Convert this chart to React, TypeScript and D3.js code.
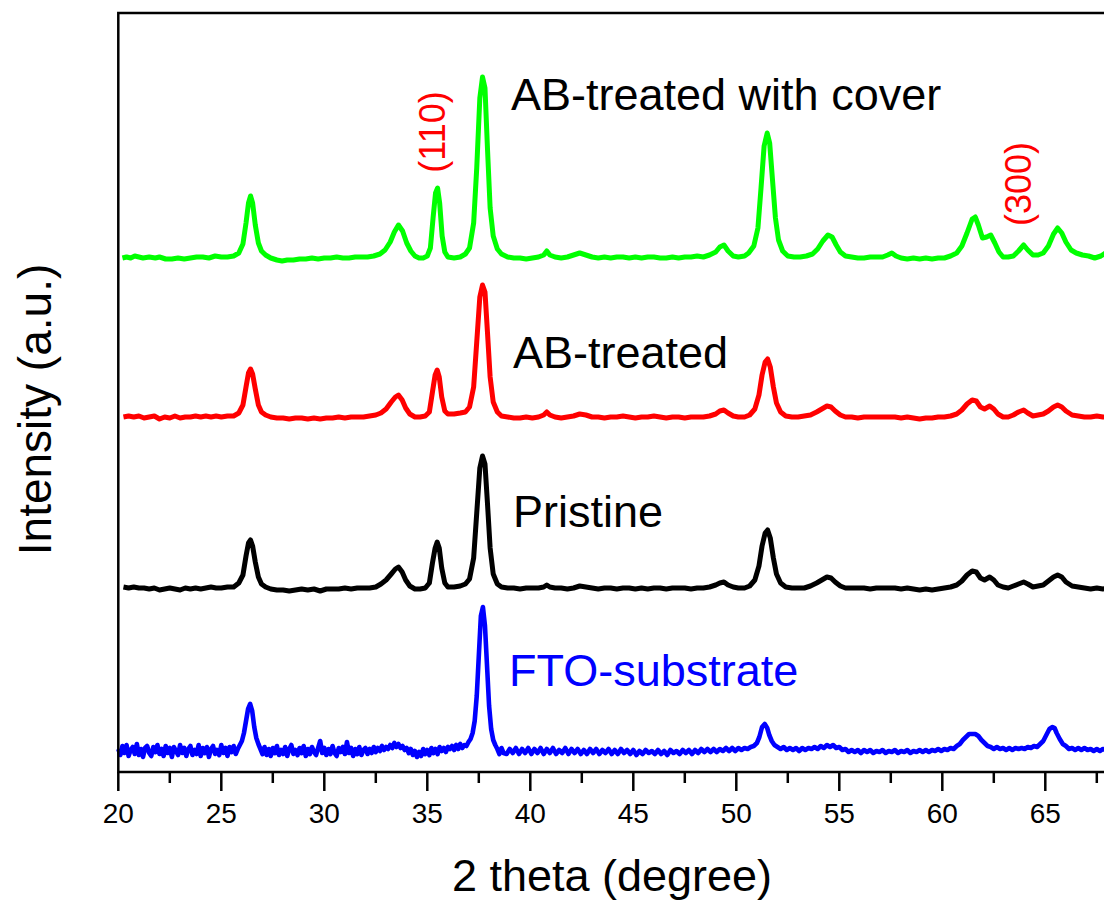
import React from "react";
import * as d3 from "d3";

type Pt = [number, number];

// 2θ (degree) vs intensity above each pattern's own baseline (a.u.)
const greenData: Pt[] = [
  [20.2,0],[20.4,1],[20.6,0],[20.8,2],[21.0,1],[21.2,0],[21.5,1],[21.8,0],[22.0,1],[22.3,-1],[22.6,-1],[22.9,0],[23.2,-1],[23.5,0],[23.8,1],[24.1,1],[24.4,0],[24.7,2],[25.0,1],[25.3,1],[25.6,2],[25.85,5],[26.05,14],[26.2,35],[26.32,55],[26.42,62],[26.52,55],[26.65,33],[26.8,15],[26.95,7],[27.15,3],[27.4,0],[27.7,-2],[27.95,-3],[28.2,-2],[28.5,-2],[28.8,-1],[29.1,-1],[29.4,0],[29.7,-1],[30.0,0],[30.3,0],[30.6,1],[30.9,0],[31.2,0],[31.5,1],[31.8,1],[32.1,1],[32.4,2],[32.7,4],[32.95,8],[33.2,16],[33.4,26],[33.6,33],[33.8,27],[34.0,15],[34.2,7],[34.4,2],[34.6,0],[34.8,0],[35.0,2],[35.15,10],[35.28,40],[35.4,65],[35.5,70],[35.6,55],[35.72,22],[35.85,6],[36.0,1],[36.3,0],[36.6,1],[36.85,4],[37.05,10],[37.25,35],[37.4,90],[37.55,160],[37.68,181],[37.8,170],[37.92,110],[38.05,50],[38.2,22],[38.4,9],[38.6,4],[38.9,1],[39.2,0],[39.5,0],[39.8,-1],[40.1,0],[40.4,1],[40.65,3],[40.8,7],[40.95,3],[41.2,1],[41.5,0],[41.8,1],[42.1,3],[42.4,5],[42.7,3],[43.0,1],[43.3,0],[43.6,1],[43.9,0],[44.2,1],[44.5,1],[44.8,0],[45.1,1],[45.4,0],[45.7,1],[46.0,1],[46.3,0],[46.6,0],[46.9,1],[47.2,0],[47.5,1],[47.8,1],[48.1,2],[48.4,1],[48.7,3],[49.0,6],[49.2,11],[49.4,13],[49.6,7],[49.85,2],[50.1,1],[50.4,2],[50.6,5],[50.85,12],[51.05,30],[51.2,70],[51.35,112],[51.5,125],[51.62,115],[51.75,80],[51.9,40],[52.05,18],[52.25,7],[52.5,2],[52.8,1],[53.1,1],[53.4,2],[53.7,4],[53.95,9],[54.2,17],[54.45,23],[54.65,21],[54.85,13],[55.05,6],[55.3,2],[55.6,1],[55.9,0],[56.2,0],[56.5,1],[56.8,1],[57.1,1],[57.35,3],[57.55,5],[57.75,2],[58.0,0],[58.3,-1],[58.6,0],[58.9,-1],[59.2,0],[59.5,-1],[59.8,0],[60.1,0],[60.4,2],[60.7,5],[60.95,12],[61.2,25],[61.45,39],[61.6,41],[61.75,33],[61.95,20],[62.15,21],[62.35,23],[62.55,15],[62.75,6],[62.95,1],[63.2,1],[63.45,2],[63.7,7],[63.95,13],[64.15,8],[64.4,3],[64.65,3],[64.9,5],[65.15,12],[65.4,24],[65.6,30],[65.8,25],[66.0,16],[66.25,8],[66.5,5],[66.8,3],[67.1,2],[67.4,0],[67.7,2],[68.0,6],[68.3,8]
];

const redData: Pt[] = [
  [20.25,0],[20.5,1],[20.75,0],[21.0,1],[21.25,-1],[21.5,0],[21.75,1],[22.0,-2],[22.25,0],[22.5,-1],[22.75,1],[23.0,-1],[23.25,0],[23.5,0],[23.75,1],[24.0,0],[24.25,1],[24.5,0],[24.75,1],[25.0,0],[25.3,1],[25.6,1],[25.85,4],[26.05,12],[26.2,30],[26.32,44],[26.42,48],[26.52,43],[26.65,28],[26.8,12],[26.95,5],[27.15,2],[27.4,0],[27.7,-1],[28.0,-1],[28.3,-2],[28.6,-1],[28.9,-1],[29.2,-2],[29.5,-1],[29.8,-2],[30.1,-1],[30.4,-1],[30.7,0],[31.0,-1],[31.3,0],[31.6,0],[31.9,0],[32.2,1],[32.5,2],[32.75,4],[33.0,8],[33.25,15],[33.45,20],[33.6,22],[33.78,17],[33.95,9],[34.15,3],[34.4,0],[34.65,0],[34.9,1],[35.1,5],[35.25,25],[35.38,42],[35.48,47],[35.58,40],[35.7,20],[35.85,6],[36.0,3],[36.3,3],[36.6,4],[36.85,5],[37.05,10],[37.25,30],[37.4,75],[37.55,120],[37.68,132],[37.8,125],[37.92,85],[38.05,40],[38.2,15],[38.4,5],[38.6,1],[38.9,0],[39.2,-1],[39.5,-1],[39.8,0],[40.1,-1],[40.4,0],[40.65,2],[40.8,5],[40.95,2],[41.2,0],[41.5,-1],[41.8,0],[42.1,1],[42.4,3],[42.7,2],[43.0,0],[43.3,0],[43.6,-1],[43.9,0],[44.2,0],[44.5,1],[44.8,0],[45.1,-1],[45.4,0],[45.7,0],[46.0,1],[46.3,0],[46.6,-1],[46.9,0],[47.2,0],[47.5,-1],[47.8,0],[48.1,0],[48.4,0],[48.7,1],[49.0,3],[49.2,6],[49.4,7],[49.6,4],[49.85,1],[50.1,0],[50.4,0],[50.65,2],[50.9,8],[51.1,22],[51.25,42],[51.4,55],[51.52,58],[51.65,50],[51.8,30],[51.95,14],[52.15,5],[52.4,1],[52.7,0],[53.0,0],[53.3,1],[53.6,2],[53.9,5],[54.15,8],[54.4,11],[54.6,10],[54.8,6],[55.05,2],[55.3,0],[55.6,0],[55.9,-1],[56.2,0],[56.5,0],[56.8,0],[57.1,0],[57.4,0],[57.7,0],[58.0,-1],[58.3,0],[58.6,-1],[58.9,-2],[59.2,-1],[59.5,-1],[59.8,0],[60.1,0],[60.4,1],[60.7,3],[60.95,7],[61.2,13],[61.45,17],[61.65,16],[61.85,10],[62.05,8],[62.3,11],[62.5,8],[62.7,3],[62.95,0],[63.2,0],[63.45,2],[63.7,5],[63.95,7],[64.15,4],[64.4,1],[64.65,2],[64.9,3],[65.15,6],[65.4,10],[65.6,12],[65.8,10],[66.0,6],[66.3,2],[66.6,1],[66.9,0],[67.2,0],[67.5,1],[67.8,0],[68.1,0]
];

const blackData: Pt[] = [
  [20.25,1],[20.5,0],[20.75,1],[21.0,0],[21.25,0],[21.5,-1],[21.75,0],[22.0,-2],[22.25,-1],[22.5,0],[22.75,-1],[23.0,-2],[23.25,0],[23.5,-1],[23.75,0],[24.0,-1],[24.25,0],[24.5,1],[24.75,0],[25.0,0],[25.3,1],[25.6,1],[25.85,5],[26.05,13],[26.2,32],[26.32,45],[26.42,48],[26.52,42],[26.65,26],[26.8,11],[26.95,4],[27.15,1],[27.4,-1],[27.7,-2],[28.0,-2],[28.3,-3],[28.6,-2],[28.9,-1],[29.2,-2],[29.5,-1],[29.8,-3],[30.1,-1],[30.4,-1],[30.7,-1],[31.0,0],[31.3,-1],[31.6,0],[31.9,0],[32.2,0],[32.5,1],[32.75,4],[33.0,8],[33.25,14],[33.45,19],[33.6,21],[33.78,16],[33.95,8],[34.15,2],[34.4,-1],[34.65,-1],[34.9,0],[35.1,5],[35.25,25],[35.38,40],[35.48,46],[35.58,40],[35.7,20],[35.85,5],[36.0,1],[36.3,1],[36.6,2],[36.85,4],[37.05,9],[37.25,30],[37.4,75],[37.55,120],[37.68,132],[37.8,124],[37.92,85],[38.05,40],[38.2,14],[38.4,4],[38.6,1],[38.9,0],[39.2,0],[39.5,-1],[39.8,0],[40.1,0],[40.4,0],[40.65,1],[40.8,3],[40.95,1],[41.2,0],[41.5,0],[41.8,-1],[42.1,0],[42.4,2],[42.7,1],[43.0,0],[43.3,-1],[43.6,0],[43.9,0],[44.2,-1],[44.5,0],[44.8,0],[45.1,-1],[45.4,0],[45.7,-1],[46.0,0],[46.3,0],[46.6,-1],[46.9,0],[47.2,0],[47.5,0],[47.8,-1],[48.1,0],[48.4,0],[48.7,1],[49.0,3],[49.2,5],[49.4,6],[49.6,3],[49.85,1],[50.1,0],[50.4,0],[50.65,2],[50.9,8],[51.1,22],[51.25,42],[51.4,55],[51.52,58],[51.65,50],[51.8,30],[51.95,14],[52.15,5],[52.4,1],[52.7,0],[53.0,0],[53.3,0],[53.6,2],[53.9,5],[54.15,8],[54.4,11],[54.6,10],[54.8,6],[55.05,2],[55.3,0],[55.6,0],[55.9,0],[56.2,0],[56.5,-1],[56.8,0],[57.1,0],[57.4,0],[57.7,0],[58.0,-1],[58.3,0],[58.6,-1],[58.9,-2],[59.2,-1],[59.5,-2],[59.8,-1],[60.1,0],[60.4,1],[60.7,3],[60.95,7],[61.2,13],[61.45,17],[61.65,16],[61.85,10],[62.05,8],[62.3,11],[62.5,8],[62.7,3],[62.95,1],[63.2,0],[63.45,2],[63.7,4],[63.95,6],[64.15,4],[64.4,1],[64.65,2],[64.9,3],[65.15,7],[65.4,11],[65.6,13],[65.8,11],[66.0,6],[66.3,2],[66.6,1],[66.9,0],[67.2,-1],[67.5,0],[67.8,-1],[68.1,0]
];

const blueData: Pt[] = [
  [20.0,2],[20.1,-4],[20.2,5],[20.3,-2],[20.4,6],[20.5,-5],[20.6,1],[20.7,4],[20.8,-3],[20.9,7],[21.0,-4],[21.1,2],[21.2,-6],[21.3,3],[21.4,5],[21.5,-2],[21.6,-5],[21.7,4],[21.8,-1],[21.9,6],[22.0,-3],[22.1,2],[22.2,-5],[22.3,5],[22.4,-2],[22.5,3],[22.6,-6],[22.7,4],[22.8,0],[22.9,-4],[23.0,6],[23.1,-2],[23.2,3],[23.3,-5],[23.4,2],[23.5,5],[23.6,-4],[23.7,1],[23.8,-3],[23.9,6],[24.0,-5],[24.1,3],[24.2,-2],[24.3,4],[24.4,-6],[24.5,2],[24.6,5],[24.7,-3],[24.8,1],[24.9,-4],[25.0,6],[25.1,-2],[25.2,3],[25.3,-5],[25.4,4],[25.5,-1],[25.6,5],[25.7,-3],[25.8,2],[25.9,6],
  [26.0,10],[26.1,18],[26.2,30],[26.3,42],[26.4,47],[26.5,40],[26.6,24],[26.7,13],[26.8,7],[26.9,2],
  [27.0,-3],[27.1,4],[27.2,-4],[27.3,2],[27.4,-5],[27.5,3],[27.6,-2],[27.7,5],[27.8,-4],[27.9,1],[28.0,-3],[28.1,4],[28.2,-5],[28.3,2],[28.4,6],[28.5,-3],[28.6,1],[28.7,-4],[28.8,3],[28.9,-2],[29.0,5],[29.1,-5],[29.2,2],[29.3,-3],[29.4,4],[29.5,-1],[29.6,-4],[29.7,3],[29.8,10],[29.9,-2],
  [30.0,3],[30.1,-4],[30.2,2],[30.3,-3],[30.4,5],[30.5,-2],[30.6,-5],[30.7,3],[30.8,-1],[30.9,4],[31.0,-3],[31.1,9],
  [31.2,-2],[31.3,3],[31.4,-5],[31.5,2],[31.6,-3],[31.7,4],[31.8,-4],[31.9,1],[32.0,3],[32.1,-3],[32.2,2],[32.3,-2],[32.4,4],[32.5,-1],[32.6,3],[32.7,0],[32.8,5],[32.9,1],
  [33.0,4],[33.1,2],[33.2,6],[33.3,3],[33.4,8],[33.5,4],[33.6,7],[33.7,3],[33.8,5],[33.9,1],[34.0,3],
  [34.1,-2],[34.2,2],[34.3,-4],[34.4,0],[34.5,-6],[34.6,-1],[34.7,-5],[34.8,2],[34.9,-3],[35.0,1],[35.1,-4],[35.2,3],[35.3,-2],[35.4,2],[35.5,-3],[35.6,4],[35.7,0],[35.8,3],[35.9,-1],[36.0,4],
  [36.1,2],[36.2,5],[36.3,1],[36.4,6],[36.5,2],[36.6,7],[36.7,3],[36.8,6],[36.9,5],[37.0,9],
  [37.1,12],[37.2,18],[37.3,30],[37.4,55],[37.5,95],[37.6,135],[37.7,144],[37.8,125],[37.9,85],[38.0,45],[38.1,22],[38.2,11],[38.3,6],[38.4,2],
  [38.5,-3],[38.6,3],[38.7,-2],
  [38.85,-3],[39.0,2],[39.15,-2],[39.3,3],[39.45,-3],[39.6,2],[39.75,-2],[39.9,3],[40.05,-3],[40.2,2],[40.35,-2],[40.5,3],[40.65,-3],[40.8,2],[40.95,-2],[41.1,3],[41.25,-3],[41.4,1],[41.55,-2],[41.7,3],[41.85,-3],[42.0,2],[42.15,-2],[42.3,2],[42.45,-3],[42.6,1],[42.75,-3],[42.9,2],[43.05,-2],[43.2,2],[43.35,-3],[43.5,1],[43.65,-2],[43.8,2],[43.95,-3],[44.1,1],[44.25,-3],[44.4,2],[44.55,-2],[44.7,1],[44.85,-3],[45.0,1],[45.15,-4],[45.3,0],[45.45,-3],[45.6,1],[45.75,-2],[45.9,0],[46.05,-3],[46.2,1],[46.35,-3],[46.5,0],[46.65,-4],[46.8,1],[46.95,-2],[47.1,0],[47.25,-3],[47.4,1],[47.55,-2],[47.7,1],[47.85,-3],[48.0,1],[48.15,-2],[48.3,2],[48.45,-1],[48.6,2],[48.75,-1],[48.9,2],[49.05,-1],[49.2,2],[49.35,0],[49.5,3],[49.65,0],[49.8,3],[49.95,0],[50.1,3],[50.25,1],[50.4,3],[50.55,2],[50.7,4],[50.85,5],[51.0,8],[51.12,14],[51.25,24],[51.38,27],[51.5,23],[51.6,16],[51.72,10],[51.85,6],[52.0,4],[52.15,2],[52.3,4],[52.45,1],[52.6,3],[52.75,1],[52.9,3],[53.05,0],[53.2,3],[53.35,1],[53.5,3],[53.65,2],[53.8,4],[53.95,2],[54.1,5],[54.25,3],[54.4,6],[54.55,4],[54.7,6],[54.85,3],[55.0,4],[55.15,1],[55.3,2],[55.45,-1],[55.6,1],[55.75,-1],[55.9,1],
  [56.05,-2],[56.2,1],[56.35,-1],[56.5,1],[56.65,-2],[56.8,0],[56.95,-1],[57.1,1],[57.25,-2],[57.4,0],[57.55,-1],[57.7,1],[57.85,-2],[58.0,0],[58.15,-1],[58.3,1],[58.45,-2],[58.6,0],[58.75,-1],[58.9,1],[59.05,-1],[59.2,1],[59.35,-1],[59.5,1],[59.65,0],[59.8,2],[59.95,0],[60.1,2],[60.25,1],[60.4,3],[60.55,2],[60.7,5],[60.85,7],[61.0,11],[61.15,14],[61.3,17],[61.45,17],[61.6,17],[61.75,15],[61.9,11],[62.05,8],[62.2,5],[62.35,4],[62.5,2],[62.65,4],[62.8,2],[62.95,3],[63.1,1],[63.25,3],[63.4,1],[63.55,3],[63.7,2],[63.85,3],[64.0,2],[64.15,4],[64.3,3],[64.45,5],[64.6,4],[64.75,7],[64.9,10],[65.05,16],[65.2,22],[65.35,24],[65.45,23],[65.55,18],[65.7,12],[65.85,7],[66.0,5],[66.15,2],[66.3,3],[66.45,1],[66.6,3],[66.75,1],[66.9,3],[67.05,1],[67.2,2],[67.35,0],[67.5,2],[67.65,0],[67.8,2],[67.95,1],[68.1,2],[68.3,1]
];

const seriesNames = ["FTO-substrate", "Pristine", "AB-treated", "AB-treated with cover"];
const seriesColors = ["#0000ff", "#000000", "#ff0000", "#00ff00"];
const seriesOffsets = [21, 184, 355, 514];
const seriesData: Pt[][] = [blueData, blackData, redData, greenData];

const xMajorTicks = [20, 25, 30, 35, 40, 45, 50, 55, 60, 65, 70];
const xTickLabels = [20, 25, 30, 35, 40, 45, 50, 55, 60, 65];
const xMinorTicks = [22.5, 27.5, 32.5, 37.5, 42.5, 47.5, 52.5, 57.5, 62.5, 67.5];

const peakLabels = ["(110)", "(300)"];
const peakLabelX = [35.85, 64.3];
const peakLabelY = [640, 588];

const W = 1104;
const H = 903;
const left = 118.3;
const right = 1148.3;
const top = 13;
const bottom = 772;
const FONT = "Arial, 'Liberation Sans', sans-serif";

export default function App() {
  const x = d3.scaleLinear().domain([20, 70]).range([left, right]);
  const y = d3.scaleLinear().domain([0, bottom - top]).range([bottom, top]);

  const lineFor = (offset: number) =>
    d3
      .line<Pt>()
      .x((d) => x(d[0]))
      .y((d) => y(d[1] + offset));

  const labelPos = [
    { x: 509, y: 686 },
    { x: 513, y: 527 },
    { x: 513, y: 368 },
    { x: 511, y: 110 },
  ];

  return (
    <svg
      width={W}
      height={H}
      style={{ position: "absolute", left: 0, top: 0, background: "#fff" }}
      fontFamily={FONT}
    >
      <rect x={0} y={0} width={W} height={H} fill="#fff" />
      {seriesData.map((data, i) => (
        <path
          key={seriesNames[i]}
          d={lineFor(seriesOffsets[i])(data) || ""}
          fill="none"
          stroke={seriesColors[i]}
          strokeWidth={i === 0 ? 4.6 : 5}
          strokeLinejoin="round"
        />
      ))}
      {/* frame */}
      <rect
        x={left}
        y={top}
        width={right - left}
        height={bottom - top}
        fill="none"
        stroke="#000"
        strokeWidth={2.5}
      />
      {/* ticks */}
      {xMajorTicks.map((t) => (
        <line key={"M" + t} x1={x(t)} x2={x(t)} y1={bottom} y2={bottom + 19} stroke="#000" strokeWidth={2.5} />
      ))}
      {xTickLabels.map((t) => (
        <text key={"L" + t} x={x(t)} y={823} textAnchor="middle" fontSize={28} fill="#000">
          {t}
        </text>
      ))}
      {xMinorTicks.map((t) => (
        <line key={"m" + t} x1={x(t)} x2={x(t)} y1={bottom} y2={bottom + 11} stroke="#000" strokeWidth={2.5} />
      ))}
      {/* axis titles */}
      <text x={612} y={891} textAnchor="middle" fontSize={45} fill="#000">
        2 theta (degree)
      </text>
      <text
        transform={`translate(51,409.5) rotate(-90)`}
        textAnchor="middle"
        fontSize={46}
        fill="#000"
      >
        Intensity (a.u.)
      </text>
      {/* series labels */}
      {seriesNames.map((n, i) => (
        <text
          key={"l" + n}
          x={labelPos[i].x}
          y={labelPos[i].y}
          fontSize={45}
          fill={i === 0 ? "#0000ff" : "#000"}
        >
          {n}
        </text>
      ))}
      {/* peak labels */}
      {peakLabels.map((p, i) => (
        <text
          key={p}
          transform={`translate(${x(peakLabelX[i])},${y(peakLabelY[i])}) rotate(-90)`}
          textAnchor="middle"
          fontSize={36}
          fill="#ff0000"
        >
          {p}
        </text>
      ))}
    </svg>
  );
}
